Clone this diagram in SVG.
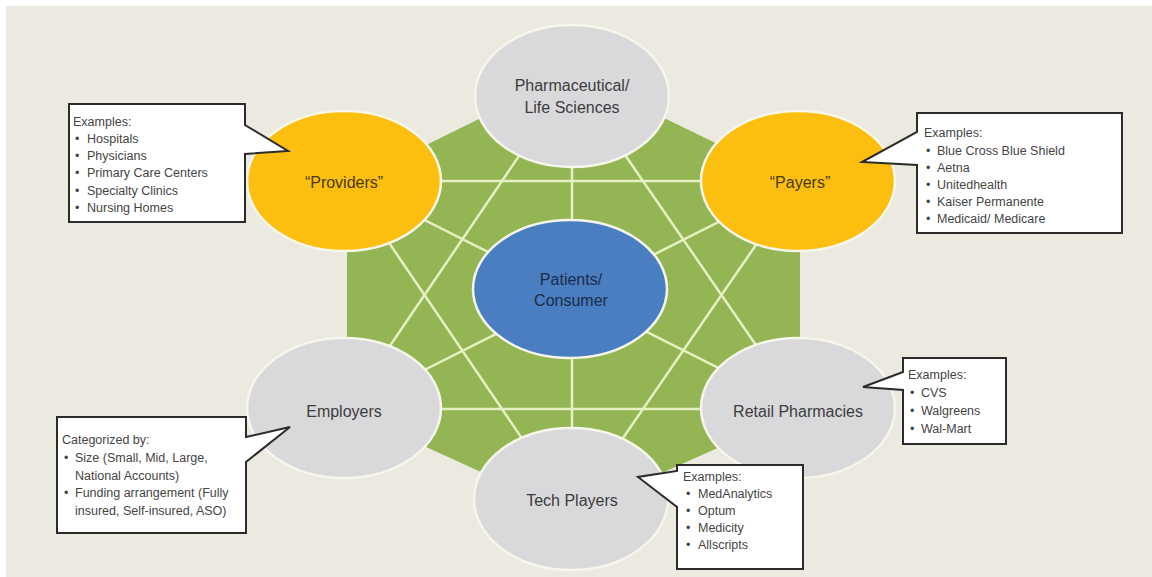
<svg xmlns="http://www.w3.org/2000/svg" width="1152" height="577" viewBox="0 0 1152 577">
<style>
.bg{fill:#ece9e1}
.oct{fill:#93b553}
.web{stroke:#e6f0c2;stroke-width:2.5;fill:none}
.ell{stroke:#f6f6ea;stroke-width:2.5}
.grey{fill:#d9d9dc}
.gold{fill:#fcbf10}
.blue{fill:#4a7ec1}
.lbl{font-family:"Liberation Sans",Arial,sans-serif;font-size:16px;text-anchor:middle;dominant-baseline:central;fill:#3c3c3c}
.lbl-gold{fill:#4a3a08}
.lbl-blue{fill:#1b2b4a}
.co{fill:#ffffff;stroke:#2b2b2b;stroke-width:2;stroke-linejoin:miter}
.ct{font-family:"Liberation Sans",Arial,sans-serif;font-size:12.5px;fill:#454545;dominant-baseline:central}
</style>
<rect x="0" y="0" width="1152" height="577" fill="#ffffff"/>
<rect class="bg" x="6" y="6" width="1146" height="571"/>

<g id="hub-background">
<polygon class="oct" points="347,184 481,118 664,118 800,184 800,411 664,472 481,472 347,411"/>
</g>

<g id="connectors">
<polygon class="web" points="572,78 347,409 800,409"/>
<polygon class="web" points="572,512 347,181 800,181"/>
<line class="web" x1="572" y1="78" x2="572" y2="512"/>
<line class="web" x1="347" y1="181" x2="800" y2="409"/>
<line class="web" x1="800" y1="181" x2="347" y2="409"/>
</g>

<g id="node-pharma">
<ellipse class="ell grey" cx="572" cy="96" rx="97" ry="71"/>
<text class="lbl" x="572" y="85">Pharmaceutical/</text>
<text class="lbl" x="572" y="107">Life Sciences</text>
</g>
<g id="node-providers">
<ellipse class="ell gold" cx="344" cy="181" rx="97" ry="70"/>
<text class="lbl lbl-gold" x="344" y="182">“Providers”</text>
</g>
<g id="node-payers">
<ellipse class="ell gold" cx="798" cy="181" rx="97" ry="70"/>
<text class="lbl lbl-gold" x="800" y="182">“Payers”</text>
</g>
<g id="node-employers">
<ellipse class="ell grey" cx="344" cy="408" rx="97" ry="70"/>
<text class="lbl" x="344" y="411">Employers</text>
</g>
<g id="node-retail">
<ellipse class="ell grey" cx="798" cy="408" rx="97" ry="70"/>
<text class="lbl" x="798" y="411">Retail Pharmacies</text>
</g>
<g id="node-tech">
<ellipse class="ell grey" cx="571" cy="499" rx="97" ry="71"/>
<text class="lbl" x="572" y="500">Tech Players</text>
</g>
<g id="node-patients">
<ellipse class="ell blue" cx="570" cy="289" rx="97" ry="69"/>
<text class="lbl lbl-blue" x="571" y="279">Patients/</text>
<text class="lbl lbl-blue" x="571" y="300">Consumer</text>
</g>

<g id="callout-providers">
<path class="co" d="M69,104 H245 V125 L288,151 L245,154 V222 H69 Z"/>
<text class="ct" x="73" y="122">Examples:</text>
<text class="ct" x="75" y="139">•</text><text class="ct" x="87" y="139">Hospitals</text>
<text class="ct" x="75" y="156">•</text><text class="ct" x="87" y="156">Physicians</text>
<text class="ct" x="75" y="173">•</text><text class="ct" x="87" y="173">Primary Care Centers</text>
<text class="ct" x="75" y="191">•</text><text class="ct" x="87" y="191">Specialty Clinics</text>
<text class="ct" x="75" y="208">•</text><text class="ct" x="87" y="208">Nursing Homes</text>
</g>
<g id="callout-payers">
<path class="co" d="M917,113 H1122 V233 H917 V165 L862,162 L917,132 Z"/>
<text class="ct" x="924" y="133">Examples:</text>
<text class="ct" x="926" y="151">•</text><text class="ct" x="937" y="151">Blue Cross Blue Shield</text>
<text class="ct" x="926" y="168">•</text><text class="ct" x="937" y="168">Aetna</text>
<text class="ct" x="926" y="185">•</text><text class="ct" x="937" y="185">Unitedhealth</text>
<text class="ct" x="926" y="202">•</text><text class="ct" x="937" y="202">Kaiser Permanente</text>
<text class="ct" x="926" y="219">•</text><text class="ct" x="937" y="219">Medicaid/ Medicare</text>
</g>
<g id="callout-retail">
<path class="co" d="M903,358 H1006 V444 H903 V390 L863,387 L903,372 Z"/>
<text class="ct" x="908" y="375">Examples:</text>
<text class="ct" x="910" y="393">•</text><text class="ct" x="921" y="393">CVS</text>
<text class="ct" x="910" y="411">•</text><text class="ct" x="921" y="411">Walgreens</text>
<text class="ct" x="910" y="429">•</text><text class="ct" x="921" y="429">Wal-Mart</text>
</g>
<g id="callout-employers">
<path class="co" d="M57,417 H246 V437 L290,427 L246,462 V533 H57 Z"/>
<text class="ct" x="62" y="440">Categorized by:</text>
<text class="ct" x="64" y="458">•</text><text class="ct" x="75" y="458">Size (Small, Mid, Large,</text>
<text class="ct" x="75" y="476">National Accounts)</text>
<text class="ct" x="64" y="493">•</text><text class="ct" x="75" y="493">Funding arrangement (Fully</text>
<text class="ct" x="75" y="511">insured, Self-insured, ASO)</text>
</g>
<g id="callout-tech">
<path class="co" d="M677,465 H803 V569 H677 V507 L638,477 L677,471 Z"/>
<text class="ct" x="683" y="477">Examples:</text>
<text class="ct" x="686" y="494">•</text><text class="ct" x="698" y="494">MedAnalytics</text>
<text class="ct" x="686" y="511">•</text><text class="ct" x="698" y="511">Optum</text>
<text class="ct" x="686" y="528">•</text><text class="ct" x="698" y="528">Medicity</text>
<text class="ct" x="686" y="545">•</text><text class="ct" x="698" y="545">Allscripts</text>
</g>
</svg>
